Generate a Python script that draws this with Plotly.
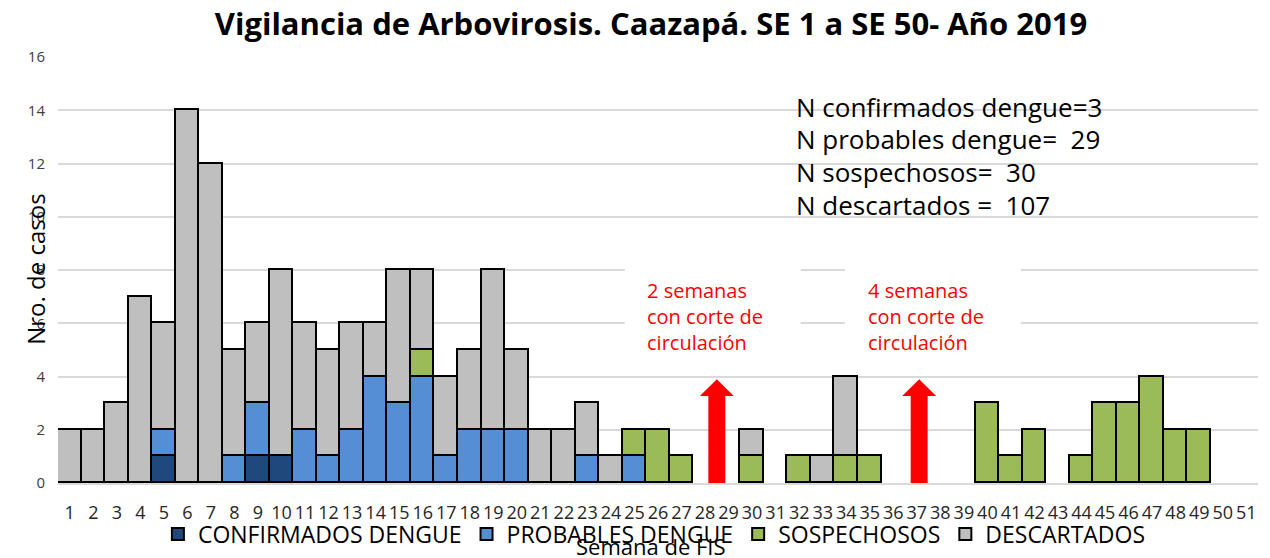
import plotly.graph_objects as go

weeks = list(range(1, 52))
confirmados = [0,0,0,0,1,0,0,0,1,1, 0,0,0,0,0,0,0,0,0,0, 0,0,0,0,0,0,0,0,0,0,
               0,0,0,0,0,0,0,0,0,0, 0,0,0,0,0,0,0,0,0,0, 0]
probables = [0,0,0,0,1,0,0,1,2,0, 2,1,2,4,3,4,1,2,2,2, 0,0,1,0,1,0,0,0,0,0,
             0,0,0,0,0,0,0,0,0,0, 0,0,0,0,0,0,0,0,0,0, 0]
sospechosos = [0,0,0,0,0,0,0,0,0,0, 0,0,0,0,0,1,0,0,0,0, 0,0,0,0,1,2,1,0,0,1,
               0,1,0,1,1,0,0,0,0,3, 1,2,0,1,3,3,4,2,2,0, 0]
descartados = [2,2,3,7,4,14,12,4,3,7, 4,4,4,2,5,3,3,3,6,3, 2,2,2,1,0,0,0,0,0,1,
               0,0,1,3,0,0,0,0,0,0, 0,0,0,0,0,0,0,0,0,0, 0]

series_names = ["CONFIRMADOS DENGUE", "PROBABLES DENGUE", "SOSPECHOSOS", "DESCARTADOS"]
series_colors = ["#1F497D", "#558ED5", "#9BBB59", "#BFBFBF"]

title_text = "Vigilancia de Arbovirosis. Caazapá. SE 1 a SE 50- Año 2019"
summary_lines = ["N confirmados dengue=3", "N probables dengue=  29",
                 "N sospechosos=  30", "N descartados =  107"]
summary_y = [14.12, 12.93, 11.68, 10.45]
cut_labels = ["2 semanas<br>con corte de<br>circulación",
              "4 semanas<br>con corte de<br>circulación"]
cut_label_x = [25.44, 34.83]
cut_box_x = [(24.59, 32.07), (33.94, 41.42)]
cut_arrow_weeks = [28.5, 37.1]
arrow_top = 3.9

FONT = "Open Sans"

fig = go.Figure()
for name, vals, col in zip(series_names, [confirmados, probables, sospechosos, descartados], series_colors):
    fig.add_trace(go.Bar(
        x=weeks, y=[v if v else None for v in vals], name=name,
        marker=dict(color=col, line=dict(color="black", width=1.6)),
        width=1.0,
    ))

shapes = []
# white boxes behind the red notes (they hide gridlines)
for x0, x1 in cut_box_x:
    shapes.append(dict(type="rect", xref="x", yref="y", layer="between",
                       x0=x0, x1=x1, y0=4.4, y1=9.4,
                       fillcolor="white", line=dict(width=0)))
# red arrows
for xc in cut_arrow_weeks:
    sw, hw, hb = 0.36, 0.72, 3.27
    path = (f"M {xc-sw},0 L {xc-sw},{hb} L {xc-hw},{hb} L {xc},{arrow_top} "
            f"L {xc+hw},{hb} L {xc+sw},{hb} L {xc+sw},0 Z")
    shapes.append(dict(type="path", xref="x", yref="y", path=path,
                       fillcolor="#FF0000", line=dict(width=0), layer="above"))

annotations = []
for line, yv in zip(summary_lines, summary_y):
    annotations.append(dict(text=line, xref="x", yref="y",
                            x=31.78, y=yv, xanchor="left", yanchor="middle", align="left",
                            showarrow=False, font=dict(family=FONT, size=26, color="black")))
for xl, txt in zip(cut_label_x, cut_labels):
    annotations.append(dict(text=txt, xref="x", yref="y", x=xl, y=6.25,
                            xanchor="left", yanchor="middle", align="left",
                            showarrow=False, font=dict(family=FONT, size=20, color="#FF0000")))
annotations.append(dict(text="Nro. de casos", xref="paper", yref="paper",
                        x=-0.019, y=0.501, xanchor="center", yanchor="middle",
                        textangle=-90, showarrow=False,
                        font=dict(family=FONT, size=24, color="black")))
annotations.append(dict(text="Semana de FIS", xref="paper", yref="paper",
                        x=0.494, y=-0.148, xanchor="center", yanchor="middle",
                        showarrow=False, font=dict(family=FONT, size=22, color="black")))

# The page body adds an 8px offset, margins compensate so the plot area lands where it should.
fig.update_layout(
    width=1270, height=558,
    margin=dict(l=50, r=20, t=49, b=82),
    plot_bgcolor="white", paper_bgcolor="white",
    barmode="stack", bargap=0,
    title=dict(text="<b>" + title_text + "</b>", x=0.5063, xanchor="center",
               y=0.971, yanchor="middle",
               font=dict(family=FONT, size=31, color="black")),
    showlegend=True,
    legend=dict(orientation="h", x=0.497, xanchor="center", y=-0.117, yanchor="middle",
                font=dict(family=FONT, size=23, color="black"),
                traceorder="normal", itemsizing="constant", bgcolor="rgba(0,0,0,0)"),
    shapes=shapes, annotations=annotations,
)
fig.update_xaxes(range=[0.5, 51.5], tickmode="array", tickvals=weeks,
                 ticktext=[str(w) for w in weeks], showgrid=False, zeroline=False,
                 showline=True, linecolor="#D9D9D9", linewidth=2, ticks="",
                 tickangle=0, ticklabelstandoff=12, fixedrange=True,
                 tickfont=dict(family=FONT, size=18, color="#262626"))
fig.update_yaxes(range=[0, 16], dtick=2, showgrid=True, gridcolor="#D9D9D9", gridwidth=2,
                 zeroline=False, showline=False, ticks="", ticklabelstandoff=12,
                 tickfont=dict(family=FONT, size=15, color="#404040"))

fig.write_html("out.html")
